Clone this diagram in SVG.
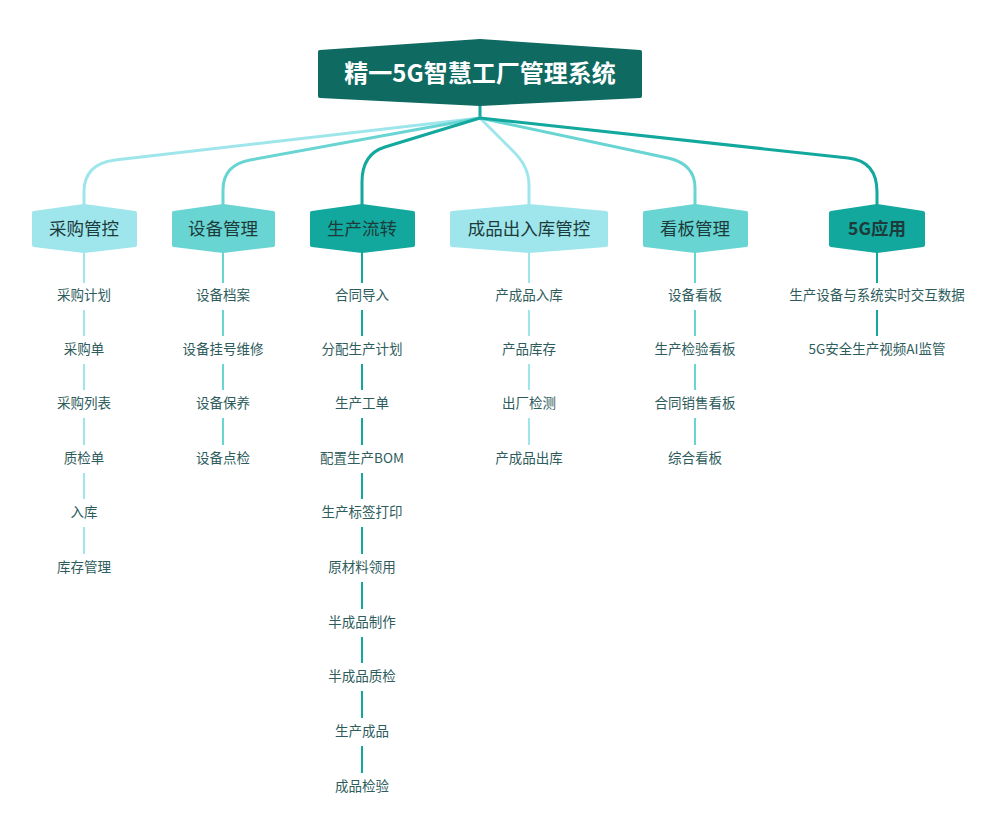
<svg xmlns="http://www.w3.org/2000/svg" width="1000" height="821" viewBox="0 0 1000 821">
<style>
.t{font-family:"Noto Sans CJK SC","Noto Sans",sans-serif;text-anchor:middle;dominant-baseline:central}
.root{font-size:24px;font-weight:700;fill:#ffffff}
.l1{font-size:17.5px;fill:#1d3b3b}
.l2{font-size:13.5px;fill:#2e5c5c}
.c1{stroke:#9fe6ec}
.c2{stroke:#68d5d3}
.c3{stroke:#12a89d}
.conn path{fill:none;stroke-width:3;stroke-linecap:round}
.conn line{stroke-width:2}
.n1{fill:#9fe6ec;stroke:#9fe6ec}
.n2{fill:#68d5d3;stroke:#68d5d3}
.n3{fill:#12a89d;stroke:#12a89d}
.hex{stroke-width:4;stroke-linejoin:round}
</style>
<rect width="1000" height="821" fill="#ffffff"/>
<g id="connectors" class="conn">
  <path class="c3" d="M480,102 L480,118"/>
  <path class="c1" d="M480,118 L115,160 Q84,164 84,192 L84,206"/>
  <path class="c2" d="M480,118 L250,160 Q223,165 223,190 L223,206"/>
  <path class="c1" d="M480,118 L512,150 Q529,166 529,185 L529,206"/>
  <path class="c2" d="M480,118 L668,158 Q695,164 695,188 L695,206"/>
  <path class="c3" d="M480,118 L385,147 Q362,154 362,182 L362,206"/>
  <path class="c3" d="M480,118 L848,158 Q877,161 877,192 L877,206"/>
  <g class="c1">
    <line x1="84" y1="252" x2="84" y2="283"/>
    <line x1="84" y1="310" x2="84" y2="336"/>
    <line x1="84" y1="364" x2="84" y2="390"/>
    <line x1="84" y1="418" x2="84" y2="445"/>
    <line x1="84" y1="473" x2="84" y2="499"/>
    <line x1="84" y1="527" x2="84" y2="554"/>
  </g>
  <g class="c2">
    <line x1="223" y1="252" x2="223" y2="283"/>
    <line x1="223" y1="310" x2="223" y2="336"/>
    <line x1="223" y1="364" x2="223" y2="390"/>
    <line x1="223" y1="418" x2="223" y2="445"/>
  </g>
  <g class="c3">
    <line x1="362" y1="252" x2="362" y2="283"/>
    <line x1="362" y1="310" x2="362" y2="336"/>
    <line x1="362" y1="364" x2="362" y2="390"/>
    <line x1="362" y1="418" x2="362" y2="445"/>
    <line x1="362" y1="473" x2="362" y2="499"/>
    <line x1="362" y1="527" x2="362" y2="554"/>
    <line x1="362" y1="582" x2="362" y2="609"/>
    <line x1="362" y1="637" x2="362" y2="663"/>
    <line x1="362" y1="691" x2="362" y2="718"/>
    <line x1="362" y1="746" x2="362" y2="773"/>
  </g>
  <g class="c1">
    <line x1="529" y1="252" x2="529" y2="283"/>
    <line x1="529" y1="310" x2="529" y2="336"/>
    <line x1="529" y1="364" x2="529" y2="390"/>
    <line x1="529" y1="418" x2="529" y2="445"/>
  </g>
  <g class="c2">
    <line x1="695" y1="252" x2="695" y2="283"/>
    <line x1="695" y1="310" x2="695" y2="336"/>
    <line x1="695" y1="364" x2="695" y2="390"/>
    <line x1="695" y1="418" x2="695" y2="445"/>
  </g>
  <g class="c3">
    <line x1="877" y1="252" x2="877" y2="283"/>
    <line x1="877" y1="310" x2="877" y2="336"/>
  </g>
</g>
<g id="root">
  <path d="M320,52 L480,41 L640,52 L640,96 L480,104 L320,96 Z" fill="#0f6a62" stroke="#0f6a62" stroke-width="4" stroke-linejoin="round"/>
  <text class="t root" x="480" y="71">精一5G智慧工厂管理系统</text>
</g>
<g id="n-caigou">
  <path class="hex n1" d="M34,213 L84,206 L135,213 L135,245 L84,251 L34,245 Z"/>
  <text class="t l1" x="84" y="227">采购管控</text>
</g>
<g id="n-shebei">
  <path class="hex n2" d="M174,213 L223,206 L273,213 L273,245 L223,251 L174,245 Z"/>
  <text class="t l1" x="223" y="227">设备管理</text>
</g>
<g id="n-shengchan">
  <path class="hex n3" d="M312,213 L362,206 L413,213 L413,245 L362,251 L312,245 Z"/>
  <text class="t l1" x="362" y="227">生产流转</text>
</g>
<g id="n-chengpin">
  <path class="hex n1" d="M452,213 L529,206 L606,213 L606,245 L529,251 L452,245 Z"/>
  <text class="t l1" x="529" y="227">成品出入库管控</text>
</g>
<g id="n-kanban">
  <path class="hex n2" d="M645,213 L695,206 L746,213 L746,245 L695,251 L645,245 Z"/>
  <text class="t l1" x="695" y="227">看板管理</text>
</g>
<g id="n-5g">
  <path class="hex n3" d="M831,213 L877,206 L923,213 L923,245 L877,251 L831,245 Z"/>
  <text class="t l1" x="877" y="227" font-weight="600">5G应用</text>
</g>
<g id="c-caigou" class="t l2">
  <text x="84" y="294">采购计划</text>
  <text x="84" y="348">采购单</text>
  <text x="84" y="402">采购列表</text>
  <text x="84" y="457">质检单</text>
  <text x="84" y="511">入库</text>
  <text x="84" y="566">库存管理</text>
</g>
<g id="c-shebei" class="t l2">
  <text x="223" y="294">设备档案</text>
  <text x="223" y="348">设备挂号维修</text>
  <text x="223" y="402">设备保养</text>
  <text x="223" y="457">设备点检</text>
</g>
<g id="c-shengchan" class="t l2">
  <text x="362" y="294">合同导入</text>
  <text x="362" y="348">分配生产计划</text>
  <text x="362" y="402">生产工单</text>
  <text x="362" y="457">配置生产BOM</text>
  <text x="362" y="511">生产标签打印</text>
  <text x="362" y="566">原材料领用</text>
  <text x="362" y="621">半成品制作</text>
  <text x="362" y="675">半成品质检</text>
  <text x="362" y="730">生产成品</text>
  <text x="362" y="785">成品检验</text>
</g>
<g id="c-chengpin" class="t l2">
  <text x="529" y="294">产成品入库</text>
  <text x="529" y="348">产品库存</text>
  <text x="529" y="402">出厂检测</text>
  <text x="529" y="457">产成品出库</text>
</g>
<g id="c-kanban" class="t l2">
  <text x="695" y="294">设备看板</text>
  <text x="695" y="348">生产检验看板</text>
  <text x="695" y="402">合同销售看板</text>
  <text x="695" y="457">综合看板</text>
</g>
<g id="c-5g" class="t l2">
  <text x="877" y="294">生产设备与系统实时交互数据</text>
  <text x="877" y="348">5G安全生产视频AI监管</text>
</g>
</svg>
